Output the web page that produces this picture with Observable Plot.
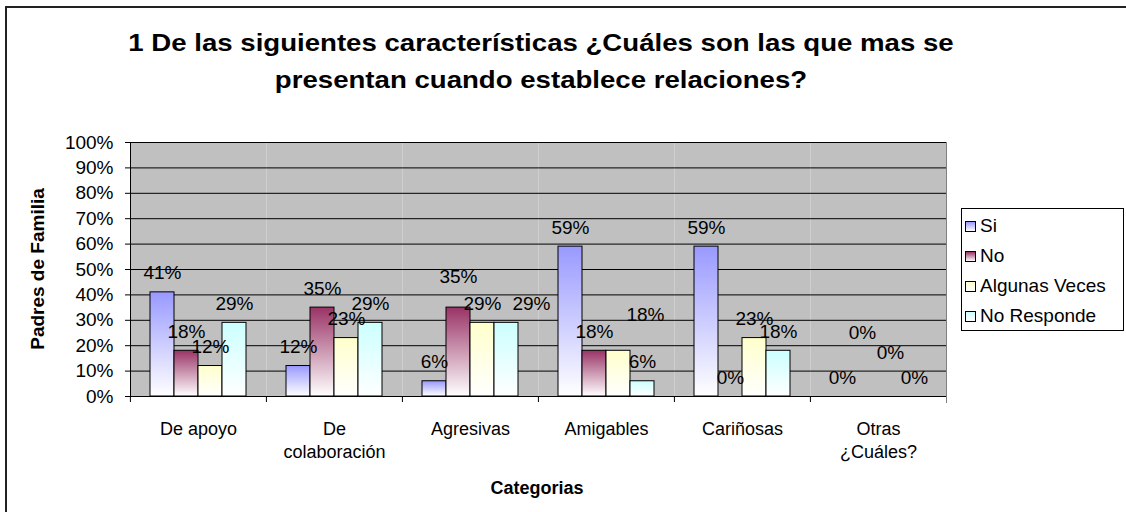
<!DOCTYPE html>
<html>
<head>
<meta charset="utf-8">
<script src="https://cdn.jsdelivr.net/npm/d3@7"></script>
<script src="https://cdn.jsdelivr.net/npm/@observablehq/plot@0.6"></script>
<style>
  body { margin: 0; background: #fff; }
  #wrap { position: relative; width: 1126px; height: 512px; overflow: hidden; background: #fff;
          font-family: Arial, "Liberation Sans", sans-serif; color: #000; }
  #border { position: absolute; left: 5px; top: 6px; width: 1300px; height: 700px;
            border-left: 2px solid #222; border-top: 2px solid #222; }
  #title { position: absolute; left: 0; top: 24px; width: 1082px; text-align: center;
           font-weight: bold; font-size: 24px; line-height: 37px; transform: scaleX(1.15); transform-origin: 541px 0; }
  #chart { position: absolute; left: 0; top: 120px; }
  #ytitle { position: absolute; left: 38px; top: 269px; transform: translate(-50%, -50%) rotate(-90deg);
            font-weight: bold; font-size: 19px; white-space: nowrap; }
  #xtitle { position: absolute; left: 537px; top: 488px; transform: translate(-50%, -50%);
            font-weight: bold; font-size: 18px; white-space: nowrap; }
  #legend { position: absolute; left: 961px; top: 208px; width: 161px; height: 119px;
            border: 1px solid #000; background: #fff; box-sizing: content-box; padding-top: 2px; }
  .item { height: 30px; display: flex; align-items: center; font-size: 19px; }
  .sw { width: 9px; height: 9px; border: 1px solid #000; margin-left: 3px; margin-right: 4px; }
</style>
</head>
<body>
<div id="wrap">
  <div id="border"></div>
  <div id="title">1 De las siguientes características ¿Cuáles son las que mas se<br>presentan cuando establece relaciones?</div>
  <div id="chart"></div>
  <div id="ytitle">Padres de Familia</div>
  <div id="xtitle">Categorias</div>
  <div id="legend"></div>
</div>
<script>
const categories = ["De apoyo", "De colaboración", "Agresivas", "Amigables", "Cariñosas", "Otras ¿Cuáles?"];
const categoryTickLabels = ["De apoyo", "De\ncolaboración", "Agresivas", "Amigables", "Cariñosas", "Otras\n¿Cuáles?"];
const series = ["Si", "No", "Algunas Veces", "No Responde"];
const valuesSi = [41, 12, 6, 59, 59, 0];
const valuesNo = [18, 35, 35, 18, 0, 0];
const valuesAlgunasVeces = [12, 23, 29, 18, 23, 0];
const valuesNoResponde = [29, 29, 29, 6, 18, 0];
const seriesColors = ["#9999ff", "#993366", "#ffffcc", "#ccffff"];
const yTicks = [0, 10, 20, 30, 40, 50, 60, 70, 80, 90, 100];
const yTickLabels = ["0%", "10%", "20%", "30%", "40%", "50%", "60%", "70%", "80%", "90%", "100%"];
// manual label nudges (pixels), as moved in the original chart
const labelNudges = [
  {category: "Agresivas", series: "No", dx: 0, dy: -12},
  {category: "Agresivas", series: "No Responde", dx: 25, dy: 0},
  {category: "Amigables", series: "Algunas Veces", dx: 27, dy: -17},
  {category: "Otras ¿Cuáles?", series: "No", dx: -4, dy: -45},
  {category: "Otras ¿Cuáles?", series: "Algunas Veces", dx: 0, dy: -25}
];

const seriesValues = [valuesSi, valuesNo, valuesAlgunasVeces, valuesNoResponde];
const rows = categories.flatMap((c, i) => series.map((s, j) => ({category: c, series: s, value: seriesValues[j][i]})));
const isNudged = (d) => labelNudges.some(n => n.category === d.category && n.series === d.series);

const W = 1126, H = 392, mL = 129, mR = 180, mT = 22, mB = 116;
const step = (W - mL - mR) / categories.length;

const labelOpts = {fx: "category", x: "series", y: "value", text: d => d.value + "%", fontSize: 19, fill: "black"};

const marks = [
  Plot.frame({fill: "#c0c0c0"}),
  Plot.ruleY(yTicks, {stroke: "black", strokeWidth: 1}),
  Plot.barY(rows, {fx: "category", x: "series", y: "value", fill: "series", stroke: "black", strokeWidth: 1}),
  Plot.text(rows.filter(d => !isNudged(d)), {...labelOpts, dy: -19}),
  ...labelNudges.map(n => Plot.text(rows.filter(d => d.category === n.category && d.series === n.series), {...labelOpts, dx: n.dx, dy: -19 + n.dy})),
  Plot.frame({anchor: "left", stroke: "black", facetAnchor: "left"}),
  Plot.frame({anchor: "right", stroke: "#808080", insetBottom: -6, facetAnchor: "right"}),
  Plot.axisY(yTicks, {anchor: "left", tickSize: 5, tickPadding: 12, tickFormat: d => yTickLabels[yTicks.indexOf(d)], label: null, fontSize: 19}),
  Plot.axisFx({anchor: "bottom", tickSize: 0, tickPadding: 22, lineHeight: 1.28, fontSize: 18,
               tickFormat: d => categoryTickLabels[categories.indexOf(d)], label: null}),
  Plot.axisFx({anchor: "bottom", tickSize: 6, tickFormat: () => "", dx: -step / 2, label: null})
];

const chart = Plot.plot({
  width: W, height: H,
  marginLeft: mL, marginRight: mR, marginTop: mT, marginBottom: mB,
  style: {fontFamily: "Arial, 'Liberation Sans', sans-serif", fontSize: "19px", background: "transparent", overflow: "visible", color: "black"},
  fx: {domain: categories, padding: 0, label: null},
  x: {domain: series, paddingInner: 0, paddingOuter: 0.75, axis: null},
  y: {domain: [0, 100], axis: null},
  color: {domain: series, range: series.map((s, i) => `url(#grad${i})`)},
  marks
});

const defs = seriesColors.map((c, i) =>
  `<linearGradient id="grad${i}" x1="0" y1="0" x2="0" y2="1"><stop offset="0" stop-color="${c}"/><stop offset="1" stop-color="#ffffff"/></linearGradient>`
).join("");
chart.insertAdjacentHTML("afterbegin", `<defs>${defs}</defs>`);
document.getElementById("chart").appendChild(chart);

const legend = document.getElementById("legend");
series.forEach((s, i) => {
  const item = document.createElement("div");
  item.className = "item";
  const sw = document.createElement("div");
  sw.className = "sw";
  sw.style.background = `linear-gradient(to bottom, ${seriesColors[i]}, #ffffff)`;
  const t = document.createElement("span");
  t.textContent = s;
  item.appendChild(sw);
  item.appendChild(t);
  legend.appendChild(item);
});
</script>
</body>
</html>
